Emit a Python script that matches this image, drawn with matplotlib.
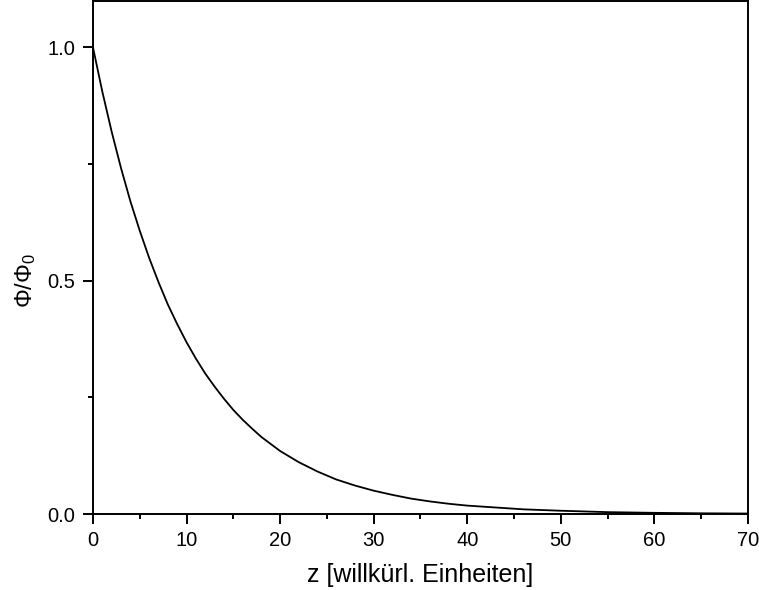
import matplotlib
matplotlib.use("Agg")
import matplotlib.pyplot as plt
from matplotlib.ticker import MultipleLocator

plt.rcParams['font.family'] = ['Liberation Sans', 'DejaVu Sans']
plt.rcParams['mathtext.fontset'] = 'custom'
plt.rcParams['mathtext.rm'] = 'Liberation Sans'

z = [0, 1, 2, 3, 4, 5, 6, 7, 8, 9, 10, 11, 12, 13, 14, 15, 16, 17, 18, 19, 20,
     22, 24, 26, 28, 30, 32, 34, 36, 38, 40, 43, 46, 50, 55, 60, 65, 70]
phi = [1.000, 0.905, 0.819, 0.741, 0.670, 0.607, 0.549, 0.497, 0.449, 0.407, 0.368,
       0.333, 0.301, 0.273, 0.247, 0.223, 0.202, 0.183, 0.165, 0.150, 0.135,
       0.111, 0.091, 0.074, 0.061, 0.050, 0.041, 0.033, 0.027, 0.022, 0.018,
       0.014, 0.010, 0.007, 0.004, 0.0025, 0.0015, 0.001]

x_ticks = [0, 10, 20, 30, 40, 50, 60, 70]
y_ticks = [0.0, 0.5, 1.0]
y_ticklabels = ["0.0", "0.5", "1.0"]

fig = plt.figure(figsize=(7.59, 5.90), dpi=100)
ax = fig.add_axes([0.1225, 0.1288, 0.8630, 0.8700])
ax.plot(z, phi, color='black', lw=1.3)
ax.set_xlim(0, 70)
ax.set_ylim(0, 1.1)
ax.set_xticks(x_ticks)
ax.set_yticks(y_ticks)
ax.set_yticklabels(y_ticklabels)
ax.xaxis.set_minor_locator(MultipleLocator(5))
ax.yaxis.set_minor_locator(MultipleLocator(0.25))
ax.tick_params(which='both', direction='out', top=False, right=False, width=1.4, labelsize=14.5)
ax.tick_params(which='major', length=7, pad=5.5)
ax.tick_params(which='minor', length=3.5)
for s in ax.spines.values():
    s.set_linewidth(1.4)
ax.set_xlabel("z [willkürl. Einheiten]", fontsize=18)
ax.xaxis.set_label_coords(0.5, -0.095)
ax.set_ylabel(r"$\mathregular{\Phi/\Phi_0}$", fontsize=17)
ax.yaxis.set_label_coords(-0.084, 0.455)
fig.savefig("out.png", dpi=100)
